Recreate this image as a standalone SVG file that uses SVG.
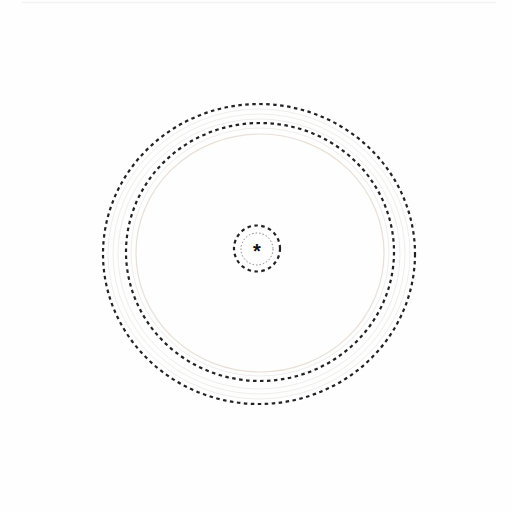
<svg xmlns="http://www.w3.org/2000/svg" width="512" height="512" viewBox="0 0 512 512">
<style>
.dash{fill:none;stroke:#222;stroke-width:2.2;stroke-dasharray:3.5 3.5}
.faint{fill:none;stroke:#efeeeb;stroke-width:1}
.tan{fill:none;stroke:#e8e0d6;stroke-width:1.2}
.dot{fill:none;stroke:#666;stroke-width:0.8;stroke-dasharray:1.5 2}
</style>
<rect width="512" height="512" fill="#fefefe"/>
<line x1="22" y1="2.5" x2="496" y2="2.5" stroke="#f2f2f2" stroke-width="1.5"/>
<g id="outer-ring">
<ellipse class="faint" cx="259" cy="254" rx="151" ry="145"/>
<ellipse class="faint" cx="259" cy="254" rx="146" ry="140"/>
<ellipse class="faint" cx="259" cy="254" rx="141" ry="135"/>
<ellipse class="dash" cx="259" cy="254" rx="156" ry="150"/>
</g>
<g id="inner-ring">
<ellipse class="faint" cx="260" cy="252" rx="129" ry="124"/>
<ellipse class="tan" cx="260" cy="253" rx="124" ry="119"/>
<ellipse class="dash" cx="260" cy="252" rx="134" ry="129"/>
</g>
<g id="center">
<circle class="dash" cx="257" cy="248.5" r="23" stroke-width="2" stroke-dasharray="3.5 2.5"/>
<circle class="dot" cx="257" cy="249" r="16"/>
<text x="257" y="258" font-family="Liberation Sans, sans-serif" font-size="20" font-weight="bold" text-anchor="middle" fill="#111">*</text>
</g>
</svg>
